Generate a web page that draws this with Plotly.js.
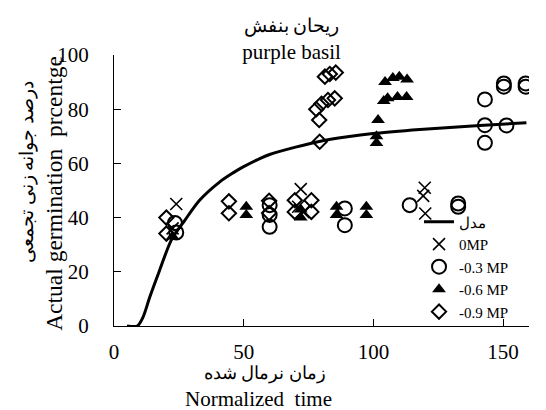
<!DOCTYPE html>
<html>
<head>
<meta charset="utf-8">
<script src="https://cdn.plot.ly/plotly-3.0.1.min.js"></script>
<style>html,body{margin:0;padding:0;background:#fff;}#chart{width:546px;height:410px;}</style>
</head>
<body>
<div id="chart"></div>
<script>
// Model curve
const modelX = [5, 9, 11.2, 13.8, 17.6, 22.1, 27.3, 33, 40.8, 45.9, 49.8, 56.2, 60, 70, 78.7, 90, 99.9, 117.9, 141, 159];
const modelY = [0, 0, 3.3, 10.7, 20.6, 31.7, 39, 46.4, 53.2, 56.5, 58.7, 61.8, 63.3, 66, 68, 69.8, 71, 72.5, 74, 75];

// 0MP (x marks)
const mp0X = [24, 22.6, 72, 71, 73, 119.8, 119.2, 120];
const mp0Y = [45, 36, 50.5, 44, 42, 51, 48, 41.5];

// -0.3 MP (open circles)
const mp03X = [23.5, 24, 60, 60, 60, 89, 89, 114, 132.7, 132.7, 143, 150.3, 150.3, 158.7, 158.7, 143, 151.3, 143];
const mp03Y = [38, 34.5, 44.6, 41, 36.6, 43.4, 37.2, 44.6, 45.2, 44, 83.6, 89.5, 88.3, 89.5, 88.3, 74.1, 74, 67.6];

// -0.6 MP (filled triangles)
const mp06X = [22.6, 51, 51, 72, 72, 85.8, 85.8, 97.3, 97.3, 101.8, 101.2, 101.2, 104.5, 107.5, 110, 113, 104, 105.5, 109.3, 112.8];
const mp06Y = [33, 44, 41, 43, 40, 44, 41, 44, 41, 76, 70, 67.5, 90, 91.5, 92, 91, 83, 84, 84.5, 84.5];

// -0.9 MP (open diamonds)
const mp09X = [20.2, 20.2, 44.3, 44.3, 59.8, 59.8, 69.7, 69.7, 76.1, 76.1, 79.3, 79.1, 78, 80, 82.5, 85.1, 81.3, 83.2, 85.5];
const mp09Y = [40, 34.1, 46, 41.6, 46.2, 41.7, 46.4, 42.1, 46.4, 42.1, 68, 76, 80, 82, 83.4, 84, 92, 93, 93.5];

const xTicks = [0, 50, 100, 150];
const yTicks = [0, 20, 40, 60, 80, 100];

const FONT = 'Liberation Serif, serif';

const traces = [
  {x: modelX, y: modelY, name: 'مدل', mode: 'lines', type: 'scatter',
   line: {color: '#000', width: 3, shape: 'spline', smoothing: 0.8}},
  {x: mp0X, y: mp0Y, name: '0MP', mode: 'markers', type: 'scatter',
   marker: {symbol: 'x-thin-open', size: 12, color: '#000', line: {color: '#000', width: 1.6}}},
  {x: mp03X, y: mp03Y, name: '-0.3 MP', mode: 'markers', type: 'scatter',
   marker: {symbol: 'circle-open', size: 14, color: '#000', line: {color: '#000', width: 2}}},
  {x: mp06X, y: mp06Y, name: '-0.6 MP', mode: 'markers', type: 'scatter',
   marker: {symbol: 'triangle-up', size: 12, color: '#000', line: {color: '#000', width: 0}}},
  {x: mp09X, y: mp09Y, name: '-0.9 MP', mode: 'markers', type: 'scatter',
   marker: {symbol: 'diamond-open', size: 11, color: '#000', line: {color: '#000', width: 2}}}
];

const layout = {
  width: 546, height: 410,
  margin: {l: 114, r: 17, t: 55, b: 84},
  paper_bgcolor: '#fff', plot_bgcolor: '#fff',
  font: {family: FONT, color: '#000', size: 20},
  title: {text: '<span style="font-size:19px">ريحان بنفش</span><br>purple basil', xref: 'paper', x: 0.428, xanchor: 'center',
          yref: 'container', y: 0.922, yanchor: 'top', font: {family: FONT, size: 21, color: '#000'}},
  xaxis: {range: [0, 160], tickvals: xTicks, ticktext: xTicks.map(String), ticks: 'inside', ticklen: 7,
          tickcolor: '#000', showline: true, linecolor: '#000', linewidth: 1, showgrid: false, zeroline: false,
          tickfont: {family: FONT, size: 21, color: '#000'}, ticklabelstandoff: 7},
  yaxis: {range: [0, 100], tickvals: yTicks, ticktext: yTicks.map(String), ticks: 'inside', ticklen: 7,
          tickcolor: '#000', showline: true, linecolor: '#000', linewidth: 1, showgrid: false, zeroline: false,
          tickfont: {family: FONT, size: 21, color: '#000'}, ticklabelstandoff: 20},
  showlegend: true,
  legend: {x: 0.735, xanchor: 'left', y: 0.445, yanchor: 'top', bgcolor: 'rgba(0,0,0,0)',
           font: {family: FONT, size: 15, color: '#000'}, tracegroupgap: 0, itemwidth: 30},
  annotations: [
    {text: 'زمان نرمال شده', xref: 'paper', yref: 'paper', x: 0.363, y: -0.175, xanchor: 'center', yanchor: 'middle',
     showarrow: false, font: {family: FONT, size: 17.5, color: '#000'}},
    {text: 'Normalized  time', xref: 'paper', yref: 'paper', x: 0.347, y: -0.268, xanchor: 'center', yanchor: 'middle',
     showarrow: false, font: {family: FONT, size: 21, color: '#000'}},
    {text: 'Actual germination  prcentge', xref: 'paper', yref: 'paper', x: -0.143, y: 0.49, xanchor: 'center', yanchor: 'middle',
     showarrow: false, textangle: -90, font: {family: FONT, size: 23.5, color: '#000'}},
    {text: 'درصد جوانه زنی تجمعی', xref: 'paper', yref: 'paper', x: -0.21, y: 0.567, xanchor: 'center', yanchor: 'middle',
     showarrow: false, textangle: -90, font: {family: FONT, size: 19, color: '#000'}}
  ]
};

Plotly.newPlot('chart', traces, layout, {displayModeBar: false, staticPlot: true});
</script>
</body>
</html>
